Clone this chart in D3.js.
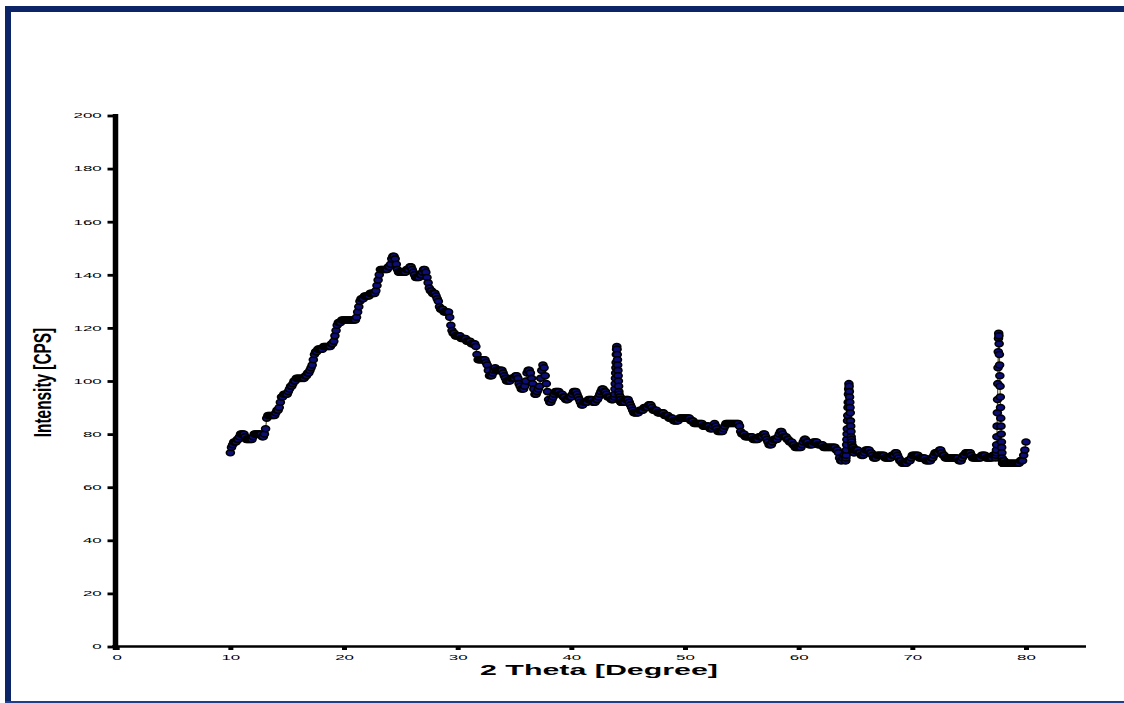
<!DOCTYPE html>
<html><head><meta charset="utf-8">
<script src="https://cdn.jsdelivr.net/npm/d3@7"></script>
<style>html,body{margin:0;padding:0;background:#fff;} svg{display:block;}</style>
</head><body>
<svg id="chart" width="1124" height="703"></svg>
<script>
const xTicks = [0, 10, 20, 30, 40, 50, 60, 70, 80];
const yTicks = [0, 20, 40, 60, 80, 100, 120, 140, 160, 180, 200];
const xLabel = "2 Theta [Degree]";
const yLabel = "Intensity [CPS]";

// base scan: 10.0 .. 80.0 deg, 0.1 deg step
const thetaStart = 10, thetaStep = 0.1;
const intensity = [
73,75,76,77,77,77,78,78,79,80,
80,80,80,79,78,78,78,78,78,78,
79,80,80,80,80,80,80,80,79,79,
80,82,86,87,87,87,87,87,87,87,
88,89,89,90,92,94,94,95,95,95,
95,96,97,98,98,99,100,100,101,101,
101,101,101,101,101,101,102,102,103,103,
104,105,106,108,110,111,111,112,112,112,
112,112,113,113,113,113,113,113,113,114,
114,115,117,119,121,122,122,122,123,123,
123,123,123,123,123,123,123,123,123,123,
123,124,126,128,130,131,131,131,132,132,
132,132,132,133,133,133,133,133,134,136,
138,140,142,142,142,142,142,142,142,143,
143,144,146,147,147,146,144,142,141,141,
141,141,141,141,141,142,142,142,143,143,
142,141,140,139,139,139,139,140,140,141,
142,142,141,139,137,135,134,134,133,133,
133,132,131,130,128,127,127,127,126,126,
126,126,126,124,121,119,118,118,117,117,
117,117,117,116,116,116,116,116,115,115,
115,115,114,114,114,114,113,110,108,108,
108,108,108,108,108,107,106,104,102,102,
102,103,104,105,104,104,104,104,104,104,
103,102,101,100,100,100,100,101,101,101,
101,102,102,101,99,98,97,97,97,98,
100,103,104,104,103,101,99,97,95,95,
96,97,98,101,104,106,105,102,99,96,
93,92,92,93,94,95,96,96,96,96,
95,95,95,94,94,93,93,93,94,94,
94,95,96,96,96,95,94,93,92,91,
91,92,92,92,92,93,93,93,93,92,
92,92,93,93,94,95,96,97,97,96,
96,95,94,94,94,93,93,93,100,108,
113,104,95,94,92,92,92,92,93,93,
93,92,91,90,89,88,88,88,88,88,
89,89,89,89,90,90,90,90,91,91,
91,90,89,89,89,89,88,88,88,88,
88,88,87,87,87,87,86,86,86,86,
85,85,85,85,85,86,86,86,86,86,
86,86,86,86,86,85,85,85,84,84,
84,84,84,84,84,84,83,83,83,83,
83,83,82,82,82,83,84,83,82,81,
81,81,81,81,82,83,84,84,84,84,
84,84,84,84,84,84,84,84,83,81,
80,80,80,79,79,79,79,79,79,79,
78,78,78,78,78,79,79,79,79,80,
80,79,78,77,76,76,76,77,78,78,
78,78,79,80,81,81,80,79,79,79,
78,78,77,77,77,76,76,75,75,75,
75,75,75,76,77,78,78,77,77,76,
76,76,76,77,77,77,77,76,76,76,
76,76,75,75,75,75,75,75,75,75,
75,75,75,74,74,73,71,70,70,71,
72,71,74,85,97,92,81,75,75,74,
74,74,74,73,73,72,72,72,73,74,
74,74,74,73,73,72,71,71,71,72,
72,72,72,72,72,72,71,71,71,71,
71,71,72,72,72,73,73,72,71,70,
70,69,69,69,69,69,70,70,70,71,
72,72,72,72,72,72,71,71,71,71,
71,71,70,70,70,70,70,71,71,72,
73,73,73,73,74,74,73,72,72,71,
71,71,71,71,71,71,71,71,71,71,
71,70,70,70,71,72,72,73,73,73,
73,73,72,71,71,71,71,71,71,71,
71,72,72,72,72,71,71,71,71,71,
71,72,72,72,74,93,118,102,83,71,
69,69,69,69,69,69,69,69,69,69,
69,69,69,69,69,70,70,70,72,74,
77
];

// finely sampled reflections (0.02 deg step)
const fineStep = 0.02;
const peak44Start = 43.8;
const peak44 = [94,95,97,99,101,103,105,107,110,112,113,112,110,108,106,104,102,100,98,96,95,94,93,93,94,94,93,93,92,92,92];
const peak64Start = 64.1;
const peak64 = [71,70,70,71,72,74,76,78,80,82,85,87,90,92,95,97,99,98,96,94,92,90,88,85,83,81,79,78,77,76,75,75,74,74,75,75,74,74,73,73,74];
const peak77Start = 77.3;
const peak77 = [72,72,71,72,73,74,76,79,83,88,93,99,105,111,116,118,117,114,110,106,102,98,94,90,86,83,80,77,75,73,71,70,69,69,69,69,70,69,69,70,69];

// ---- build dataset ----
const windows = [[peak44Start, peak44], [peak64Start, peak64], [peak77Start, peak77]];
const ranges = windows.map(([s, v]) => [s, s + (v.length - 1) * fineStep]);
let data = intensity.map((v, i) => ({ t: +(thetaStart + i * thetaStep).toFixed(3), v }))
  .filter(d => !ranges.some(([a, b]) => d.t >= a - 1e-6 && d.t <= b + 1e-6));
windows.forEach(([s, vals]) => vals.forEach((v, i) => data.push({ t: +(s + i * fineStep).toFixed(3), v })));
data.sort((a, b) => a.t - b.t);

const svg = d3.select("#chart");
const navy = "#0b2566";

// frame
svg.append("rect").attr("x", 5).attr("y", 6).attr("width", 1119).attr("height", 6).attr("fill", navy);
svg.append("rect").attr("x", 5).attr("y", 6).attr("width", 6).attr("height", 697).attr("fill", navy);
svg.append("rect").attr("x", 5).attr("y", 701).attr("width", 1119).attr("height", 2).attr("fill", "#1f3f8c");

const x = d3.scaleLinear().domain([0, 85.28]).range([116.7, 1086]);
const y = d3.scaleLinear().domain([0, 200]).range([646.5, 115.5]);

const tickFont = "'Liberation Sans', Arial, sans-serif";
const sxTick = 2.6;

// x axis
const gx = svg.append("g").attr("transform", `translate(0,${y(0)})`)
  .call(d3.axisBottom(x).tickValues(xTicks).tickSize(3.5).tickSizeOuter(0));
gx.select(".domain").remove();
gx.selectAll(".tick line").attr("stroke", "#000").attr("stroke-width", 5);
gx.selectAll(".tick text")
  .attr("y", 13.6).attr("dy", null)
  .attr("transform", `scale(${sxTick},1)`)
  .attr("font-family", tickFont).attr("font-size", 6.5).attr("fill", "#000");
svg.append("line").attr("x1", 112).attr("x2", 1086).attr("y1", y(0)).attr("y2", y(0))
  .attr("stroke", "#000").attr("stroke-width", 2.6);

// y axis
const axX = 115.5;
const gy = svg.append("g").attr("transform", `translate(${axX},0)`)
  .call(d3.axisLeft(y).tickValues(yTicks).tickSize(8).tickSizeOuter(0));
gy.select(".domain").remove();
gy.selectAll(".tick line").attr("stroke", "#000").attr("stroke-width", 2.8);
gy.selectAll(".tick text")
  .attr("x", -13.8 / sxTick).attr("dy", "0.36em")
  .attr("transform", `scale(${sxTick},1)`)
  .attr("font-family", tickFont).attr("font-size", 6.5).attr("fill", "#000");
svg.append("line").attr("x1", axX).attr("x2", axX).attr("y1", 650).attr("y2", 114)
  .attr("stroke", "#000").attr("stroke-width", 5.5);

// labels
svg.append("text").attr("transform", "translate(599,675) scale(1.96,1)")
  .attr("text-anchor", "middle").attr("font-family", tickFont).attr("font-weight", "bold")
  .attr("font-size", 15.5).attr("fill", "#000").text(xLabel);
svg.append("text").attr("transform", "translate(51,382.5) scale(1.6,1) rotate(-90)")
  .attr("text-anchor", "middle").attr("font-family", tickFont).attr("font-weight", "bold")
  .attr("font-size", 15.4).attr("fill", "#000").text(yLabel);

// data line + markers
svg.append("path").datum(data)
  .attr("d", d3.line().x(d => x(d.t)).y(d => y(d.v)))
  .attr("fill", "none").attr("stroke", "#55552b").attr("stroke-width", 1.2);
svg.append("g").selectAll("ellipse").data(data).join("ellipse")
  .attr("cx", d => x(d.t)).attr("cy", d => y(d.v))
  .attr("rx", 4).attr("ry", 3)
  .attr("fill", "#0d0d78").attr("stroke", "#000").attr("stroke-width", 1.6);
</script>
</body></html>
